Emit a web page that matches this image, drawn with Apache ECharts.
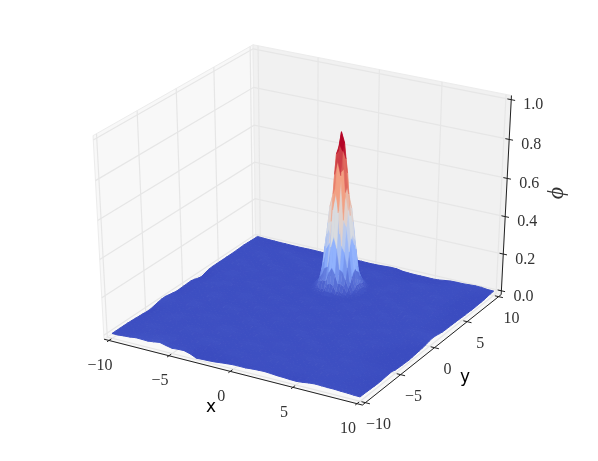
<!DOCTYPE html>
<html>
<head>
<meta charset="utf-8">
<title>surface</title>
<script src="https://cdn.jsdelivr.net/npm/echarts@6/dist/echarts.min.js"></script>
<style>
    html, body { margin: 0; padding: 0; background: #fff; }
    #main { width: 598px; height: 461px; }
</style>
</head>
<body>
<div id="main"></div>
<script>
// tick values
var xTicks = [-10, -5, 0, 5, 10];
var yTicks = [-10, -5, 0, 5, 10];
var zTicks = [0, 0.2, 0.4, 0.6, 0.8, 1];
var xTickLabels = ['\u221210', '\u22125', '0', '5', '10'];
var yTickLabels = ['\u221210', '\u22125', '0', '5', '10'];
var zTickLabels = ['0.0', '0.2', '0.4', '0.6', '0.8', '1.0'];

// flat part of the surface, thousandths. rows: y = -10..10, columns: x = -10..10, step 0.5
var floorRows = [
[0,0,3,5,10,9,8,12,17,9, 2,5,6,-3,-18,-16,-15,-13,-9,-6, -3,-3,-3,0,2,3,1,-2,-3,-5, -6,-3,2,5,4,3,3,1,0,-2, -3],
[0,0,2,3,5,5,5,8,10,5, 2,3,3,0,-8,-8,-6,-5,-5,-3, 0,0,0,0,0,2,0,0,0,-3, -3,0,0,3,3,0,0,0,0,-2, -3],
[0,0,0,0,5,5,5,5,5,0, 0,0,0,0,-5,-5,-5,0,0,0, 0,0,5,5,0,0,0,0,0,0, 0,0,0,0,0,0,0,0,-3,-3, -4],
[0,0,0,0,0,0,0,5,5,5, 0,0,0,0,0,0,0,0,5,5, 5,0,0,0,0,0,0,5,5,5, 0,0,0,0,0,0,0,-3,-3,-3, -5],
[0,0,0,5,5,5,0,0,0,0, 0,0,5,5,5,0,0,0,0,0, 0,0,0,5,5,5,5,0,0,0, 0,0,5,5,0,0,0,-3,-3,-5, -6],
[-1,0,0,5,5,5,0,0,0,0, 0,0,5,5,5,5,0,0,0,0, 0,0,0,0,5,5,0,0,0,0, 0,0,5,5,5,0,0,0,-3,-5, -7],
[-2,0,0,0,0,0,0,0,5,5, 5,0,0,0,0,0,0,0,5,5, 5,5,0,0,0,0,0,0,0,5, 5,5,0,0,0,0,0,0,-3,-3, -6],
[-4,-2,0,0,0,0,0,0,5,5, 5,5,0,0,0,0,0,0,5,5, 5,0,0,0,0,0,0,5,5,5, 5,0,0,0,0,0,0,0,-2,-3, -4],
[-5,-3,0,0,5,5,0,0,0,0, 0,0,0,5,5,5,0,0,0,0, 0,0,5,5,5,0,0,0,0,0, 0,0,0,5,5,0,0,0,0,-2, -3],
[-7,-4,0,0,5,5,5,0,0,0, 0,0,5,5,5,5,0,0,0,0, 0,0,5,5,5,0,0,0,0,0, 0,0,5,5,0,0,0,-2,-2,-2, -2],
[-7,-3,0,0,0,5,5,0,0,0, 0,0,0,5,5,0,0,0,5,5, 5,0,0,0,0,0,5,5,5,0, 0,0,0,0,0,0,-3,-3,-5,-6, -8],
[-2,0,0,0,0,0,0,0,5,5, 5,0,0,0,0,0,0,0,5,5, 5,0,0,0,0,0,5,5,0,0, 0,0,0,0,0,-3,-3,-5,-6,-8, -10],
[3,3,0,0,0,0,0,0,5,5, 5,5,0,0,0,0,5,5,5,0, 0,0,0,0,5,5,5,0,0,0, 0,5,5,0,0,0,-3,-5,-7,-9, -11],
[7,5,3,0,0,5,5,0,0,0, 0,0,0,0,5,5,5,0,0,0, 0,0,5,5,5,0,0,0,0,5, 5,5,0,0,0,-3,-3,-5,-8,-10, -12],
[8,5,3,0,5,5,5,0,0,0, 0,0,0,0,5,5,0,0,0,0, 0,0,5,5,0,0,0,0,0,5, 5,5,0,0,0,0,-3,-5,-8,-10, -13],
[4,3,0,0,5,5,0,0,0,0, 5,5,5,0,0,0,0,0,5,5, 0,0,0,0,0,5,5,0,0,0, 0,0,0,5,5,0,0,-3,-6,-8, -11],
[0,0,0,0,0,0,0,0,0,5, 5,5,0,0,0,0,0,5,5,5, 0,0,0,0,0,5,5,5,0,0, 0,0,0,5,5,0,0,-3,-5,-7, -9],
[-4,-2,0,0,0,0,5,5,0,0, 0,0,0,0,5,5,0,0,0,0, 0,5,5,0,0,0,0,0,0,5, 5,0,0,0,0,0,0,0,-3,-5, -7],
[-3,-2,0,0,0,5,5,5,0,0, 0,0,0,5,5,5,0,0,0,0, 5,5,5,0,0,0,0,0,0,5, 5,5,0,0,0,0,0,0,-2,-3, -5],
[-2,0,0,0,0,5,5,0,0,0, 5,5,0,0,0,0,0,5,5,0, 0,0,0,0,5,5,0,0,0,0, 0,0,5,5,0,0,0,0,0,0, -2],
[-1,0,0,0,0,0,0,0,0,5, 5,5,0,0,0,0,0,5,5,5, 0,0,0,0,5,5,5,0,0,0, 0,0,5,5,5,0,0,0,0,3, 4],
[0,0,0,5,5,0,0,0,0,5, 5,0,0,0,5,5,0,0,0,0, 0,5,5,0,0,0,0,0,5,5, 0,0,0,0,0,0,5,5,5,5, 6],
[-5,-2,0,5,5,5,0,0,0,0, 0,0,0,5,5,5,0,0,0,0, 5,5,5,0,0,0,0,5,5,5, 0,0,0,0,0,0,5,5,3,3, 4],
[-12,-6,0,0,0,5,5,0,0,0, 0,5,5,0,0,0,0,0,5,5, 0,0,0,0,5,5,0,0,0,0, 0,5,5,0,0,0,0,0,0,0, 0],
[-15,-8,0,0,0,0,0,0,5,5, 5,5,0,0,0,0,0,5,5,5, 0,0,0,0,5,5,5,0,0,0, 5,5,0,0,0,0,0,0,-2,-2, -4],
[-8,-4,0,0,5,5,0,0,5,5, 0,0,0,0,5,5,0,0,0,0, 0,0,0,5,5,0,0,0,0,5, 5,0,0,0,5,5,0,0,-2,-3, -5],
[-2,0,0,5,5,5,0,0,0,0, 0,0,0,5,5,5,0,0,0,0, 0,0,0,0,0,5,5,0,0,0, 0,0,0,5,5,5,0,0,-2,-3, -5],
[0,0,0,0,5,0,0,0,0,5, 5,5,0,0,0,0,0,0,0,0, 0,0,0,0,0,5,5,5,0,0, 0,5,5,0,0,0,0,0,-3,-4, -6],
[0,0,0,0,0,0,5,5,0,0, 5,5,0,0,0,0,0,0,0,0, 0,0,0,0,0,0,0,0,0,5, 5,5,0,0,0,0,0,0,-3,-4, -6],
[0,0,0,0,5,5,5,0,0,0, 0,0,0,5,5,0,0,0,0,0, 0,0,0,0,0,0,0,0,5,5, 0,0,0,0,0,5,5,0,-3,-5, -7],
[0,0,5,5,5,0,0,0,0,5, 5,0,0,5,5,0,0,0,0,0, 0,0,0,0,0,0,0,5,5,0, 0,0,0,0,5,5,0,0,-4,-6, -8],
[0,0,5,5,0,0,0,0,5,5, 5,0,0,0,0,0,0,0,0,0, 0,0,0,0,0,5,5,0,0,0, 0,5,5,0,0,0,0,-3,-5,-7, -9],
[0,0,0,0,0,0,5,5,5,0, 0,0,0,0,5,5,0,0,0,0, 0,0,0,0,0,5,5,5,0,0, 0,5,5,0,0,0,0,-3,-5,-8, -9],
[0,0,0,0,0,5,5,0,0,0, 0,0,5,5,5,0,0,0,0,0, 0,0,0,0,0,0,0,5,5,0, 0,0,0,0,5,5,0,-3,-6,-8, -10],
[1,0,0,5,5,5,0,0,0,0, 0,5,5,0,0,0,0,0,0,0, 0,0,0,0,0,0,5,5,0,0, 0,0,0,5,5,0,0,-3,-5,-8, -10],
[2,2,0,5,5,0,0,0,0,5, 5,5,0,0,0,0,5,5,5,0, 0,0,5,5,0,0,0,0,0,0, 5,5,0,0,0,0,0,-3,-5,-7, -9],
[3,2,0,0,0,0,0,5,5,5, 0,0,0,0,0,5,5,5,0,0, 0,0,5,5,5,0,0,0,0,5, 5,5,0,0,0,0,0,-2,-5,-7, -9],
[2,0,0,0,0,0,5,5,0,0, 0,0,5,5,0,0,0,0,0,0, 5,5,5,0,0,0,-3,-3,-3,0, 0,0,0,0,0,0,0,-2,-4,-6, -8],
[1,0,-2,-2,-3,-3,-3,0,0,-2, -2,-3,-3,-3,-2,-2,-2,-2,-2,-3, -3,-3,-2,0,-2,-4,-5,-5,-6,-5, -6,-5,-3,0,0,0,0,0,0,-3, -5],
[0,-1,-2,-3,-4,-4,-5,-5,-5,-4, -4,-5,-5,-5,-4,-4,-4,-4,-4,-5, -5,-4,-3,-1,-2,-6,-8,-9,-9,-9, -10,-8,-4,-1,0,0,1,3,2,-1, -3],
[0,-2,-3,-4,-5,-5,-6,-6,-6,-5, -5,-6,-7,-6,-5,-5,-5,-5,-5,-6, -6,-5,-3,-1,-2,-8,-10,-11,-11,-11, -12,-10,-5,-1,0,0,2,4,3,-1, -2]
];

// the spike, hundredths. rows: y = 3..7, columns: x = -2..2, step 0.25
var spikeRows = [
[0,0,0,0,0,0,0,0,0,0,0,0,0,0,0,0,0],
[0,0,0,0,1,1,1,2,2,2,1,1,1,0,0,0,0],
[0,0,0,1,2,2,2,5,6,5,2,3,2,1,0,0,0],
[0,0,1,2,5,6,6,11,14,11,6,6,5,2,1,0,0],
[0,1,1,4,8,12,13,24,30,24,13,12,8,4,1,1,0],
[0,1,2,6,14,22,25,43,52,43,25,22,14,6,2,1,0],
[0,2,3,9,22,35,36,61,68,61,38,35,22,9,3,2,0],
[0,2,4,11,28,43,50,71,76,73,52,43,28,11,4,2,0],
[0,2,4,12,30,46,52,72,82,77,54,46,30,12,4,2,0],
[0,2,4,11,27,43,50,70,72,68,50,43,27,10,4,2,0],
[0,2,3,9,21,35,38,60,62,60,38,35,21,9,3,1,0],
[0,1,3,6,13,22,26,42,47,44,26,22,11,6,3,1,0],
[0,1,2,4,7,12,14,23,27,24,14,12,7,4,2,0,0],
[0,0,1,2,4,6,7,11,13,10,7,6,4,2,1,0,0],
[0,0,0,1,2,3,3,5,5,5,3,3,2,1,0,0,0],
[0,0,0,0,1,1,2,2,2,2,1,1,1,0,0,0,0],
[0,0,0,0,0,0,0,0,0,0,0,0,0,0,0,0,0]
];

// coolwarm colour map stops
var colorStops = [[0, [59, 76, 192]], [0.25, [141, 176, 254]], [0.5, [221, 221, 221]], [0.75, [244, 154, 123]], [1, [180, 4, 38]]];

// limits of the data box
var xLim = [-10, 10], yLim = [-10, 10], zLim = [0, 1];
var floorStep = 0.5, spikeStep = 0.25;
var spikeX0 = -2, spikeY0 = 3;
var surfaceLift = 0.005;

// panes stick out of the data box by 1/48 of the range
var xMinP = xLim[0] - 20 / 48, xMaxP = xLim[1] + 20 / 48;
var yMinP = yLim[0] - 20 / 48, yMaxP = yLim[1] + 20 / 48;
var zMinP = zLim[0] - 1 / 48, zMaxP = zLim[1] + 1 / 48;

// camera: elev 30, azim -60, dist 10
var camN = [0.4330127, -0.75, 0.5];
var camU = [0.8660254, 0.5, 0];
var camV = [-0.25, 0.4330127, 0.8660254];

function dot(a, b) { return a[0] * b[0] + a[1] * b[1] + a[2] * b[2]; }
function boxPos(x, y, z) {
    return [(x - xLim[0]) / (xLim[1] - xLim[0]) - 0.5, (y - yLim[0]) / (yLim[1] - yLim[0]) - 0.5, (z - zLim[0]) / (zLim[1] - zLim[0]) - 0.5];
}
function depth(x, y, z) { return 10 - dot(camN, boxPos(x, y, z)); }
function project(x, y, z) {
    var d = boxPos(x, y, z), w = 10 - dot(camN, d);
    return [dot(camU, d) / w, dot(camV, d) / w];
}
function faceColor(t) {
    t = Math.max(0, Math.min(1, t));
    for (var i = 1; i < colorStops.length; i++) {
        if (t <= colorStops[i][0]) {
            var a = colorStops[i - 1], b = colorStops[i], k = (t - a[0]) / (b[0] - a[0]);
            return 'rgb(' + [0, 1, 2].map(function (c) { return Math.round(a[1][c] + (b[1][c] - a[1][c]) * k); }).join(',') + ')';
        }
    }
    return 'rgb(180,4,38)';
}

// mesh squares as four 3d corners, far ones first
var facets = [], maxMean = 0;
function addMesh(rows, x0, y0, step, unit, skip) {
    for (var j = 0; j < rows.length - 1; j++) {
        for (var i = 0; i < rows[j].length - 1; i++) {
            var x = x0 + i * step, y = y0 + j * step;
            if (skip && x >= spikeX0 && x < spikeX0 + 4 && y >= spikeY0 && y < spikeY0 + 4) continue;
            var c = [
                [x, y, rows[j][i] / unit + surfaceLift], [x + step, y, rows[j][i + 1] / unit + surfaceLift],
                [x + step, y + step, rows[j + 1][i + 1] / unit + surfaceLift], [x, y + step, rows[j + 1][i] / unit + surfaceLift]
            ];
            var mean = (c[0][2] + c[1][2] + c[2][2] + c[3][2]) / 4;
            if (mean > maxMean) maxMean = mean;
            facets.push({ corners: c, mean: mean, depth: depth(x + step / 2, y + step / 2, mean) });
        }
    }
}
addMesh(floorRows, xLim[0], yLim[0], floorStep, 1000, true);
addMesh(spikeRows, spikeX0, spikeY0, spikeStep, 100, false);
facets.sort(function (a, b) { return b.depth - a.depth; });

function pts(api, list) {
    return list.map(function (p) { return api.coord(project(p[0], p[1], p[2])); });
}
function indexData(list) {
    return list.map(function (p, k) { return [k, 0]; });
}

// panes and their grid lines
var panes = [
    { color: '#f8f8f8', corners: [[xMinP, yMinP, zMinP], [xMaxP, yMinP, zMinP], [xMaxP, yMaxP, zMinP], [xMinP, yMaxP, zMinP]] },
    { color: '#f8f8f8', corners: [[xMinP, yMinP, zMinP], [xMinP, yMaxP, zMinP], [xMinP, yMaxP, zMaxP], [xMinP, yMinP, zMaxP]] },
    { color: '#f1f1f1', corners: [[xMinP, yMaxP, zMinP], [xMaxP, yMaxP, zMinP], [xMaxP, yMaxP, zMaxP], [xMinP, yMaxP, zMaxP]] }
];
var gridPaths = [];
xTicks.forEach(function (x) { gridPaths.push([[x, yMinP, zMinP], [x, yMaxP, zMinP], [x, yMaxP, zMaxP]]); });
yTicks.forEach(function (y) { gridPaths.push([[xMaxP, y, zMinP], [xMinP, y, zMinP], [xMinP, y, zMaxP]]); });
zTicks.forEach(function (z) { gridPaths.push([[xMinP, yMinP, z], [xMinP, yMaxP, z], [xMaxP, yMaxP, z]]); });

// black axis lines and tick marks
var axisPaths = [
    [[xMinP, yMinP, zMinP], [xMaxP, yMinP, zMinP]],
    [[xMaxP, yMinP, zMinP], [xMaxP, yMaxP, zMinP]],
    [[xMaxP, yMaxP, zMinP], [xMaxP, yMaxP, zMaxP]]
];
xTicks.forEach(function (x) { axisPaths.push([[x, yMinP - 0.25, zMinP], [x, yMinP + 0.3, zMinP]]); });
yTicks.forEach(function (y) { axisPaths.push([[xMaxP + 0.35, y, zMinP], [xMaxP - 0.3, y, zMinP]]); });
zTicks.forEach(function (z) { axisPaths.push([[xMaxP + 0.3, yMaxP, z], [xMaxP - 0.3, yMaxP, z]]); });

// tick labels, pixel offset from their tick
var tickTexts = [];
xTicks.forEach(function (x, k) { tickTexts.push({ at: [x, yMinP, zMinP], dx: -9, dy: 25, text: xTickLabels[k] }); });
yTicks.forEach(function (y, k) { tickTexts.push({ at: [xMaxP, y, zMinP], dx: 13, dy: 22, text: yTickLabels[k] }); });
zTicks.forEach(function (z, k) { tickTexts.push({ at: [xMaxP, yMaxP, z], dx: 22, dy: 5.5, text: zTickLabels[k] }); });

var tickFont = '16px "Liberation Serif"';

var option = {
    animation: false,
    backgroundColor: '#fff',
    grid: { left: 19.5, top: -4.5, width: 572.6, height: 446, containLabel: false, outerBoundsMode: 'none' },
    xAxis: { type: 'value', min: -0.1, max: 0.1, show: false },
    yAxis: { type: 'value', min: -0.1, max: 0.1, show: false },
    series: [
        {
            type: 'custom', coordinateSystem: 'cartesian2d', z: 1, silent: true, clip: false,
            data: indexData(panes),
            renderItem: function (params, api) {
                var p = panes[api.value(0)];
                return { type: 'polygon', shape: { points: pts(api, p.corners) }, style: { fill: p.color, stroke: '#ececec', lineWidth: 1 } };
            }
        },
        {
            type: 'custom', coordinateSystem: 'cartesian2d', z: 2, silent: true, clip: false,
            data: indexData(gridPaths),
            renderItem: function (params, api) {
                return { type: 'polyline', shape: { points: pts(api, gridPaths[api.value(0)]) }, style: { fill: 'none', stroke: '#e6e6e6', lineWidth: 1.2 } };
            }
        },
        {
            type: 'custom', coordinateSystem: 'cartesian2d', z: 3, silent: true, clip: false, progressive: 0,
            data: indexData(facets),
            renderItem: function (params, api) {
                var f = facets[api.value(0)];
                var color = faceColor(f.mean / maxMean);
                return { type: 'polygon', shape: { points: pts(api, f.corners) }, style: { fill: color, stroke: color, lineWidth: f.mean < 0.02 ? 1 : 0.5 } };
            }
        },
        {
            type: 'custom', coordinateSystem: 'cartesian2d', z: 4, silent: true, clip: false,
            data: indexData(axisPaths),
            renderItem: function (params, api) {
                return { type: 'polyline', shape: { points: pts(api, axisPaths[api.value(0)]) }, style: { fill: 'none', stroke: '#222', lineWidth: 1 } };
            }
        },
        {
            type: 'custom', coordinateSystem: 'cartesian2d', z: 5, silent: true, clip: false,
            data: indexData(tickTexts),
            renderItem: function (params, api) {
                var t = tickTexts[api.value(0)];
                var c = pts(api, [t.at])[0];
                return { type: 'text', x: c[0] + t.dx, y: c[1] + t.dy, style: { text: t.text, font: tickFont, fill: '#333', align: 'center', verticalAlign: 'middle' } };
            }
        }
    ],
    graphic: [
        { type: 'text', x: 211, y: 408, z: 10, style: { text: 'x', font: '17px "DejaVu Sans"', fill: '#000', align: 'center', verticalAlign: 'middle' } },
        { type: 'text', x: 465, y: 378, z: 10, style: { text: 'y', font: '17px "DejaVu Sans"', fill: '#000', align: 'center', verticalAlign: 'middle' } },
        { type: 'text', x: 557, y: 193, z: 10, rotation: Math.PI / 2, style: { text: '\u03d5', font: 'italic 24px "Liberation Serif"', fill: '#333', align: 'center', verticalAlign: 'middle' } }
    ]
};

var chart = echarts.init(document.getElementById('main'), null, { renderer: 'canvas' });
chart.setOption(option);
</script>
</body>
</html>
